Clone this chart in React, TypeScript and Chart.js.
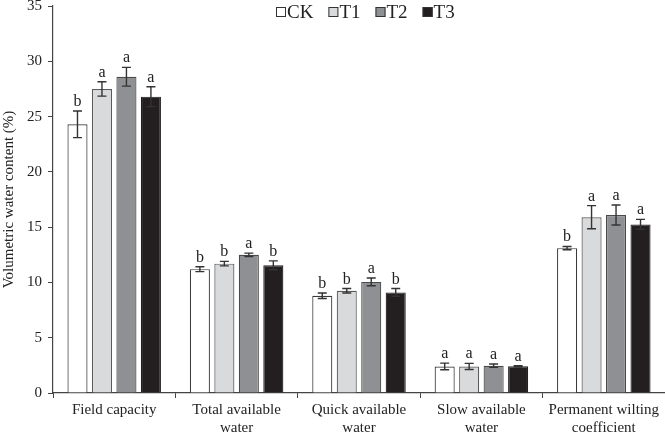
import React, { useEffect, useRef } from "react";
import { Chart, registerables } from "chart.js";

Chart.register(...registerables);

const categories: (string | string[])[] = [
  "Field capacity",
  ["Total available", "water"],
  ["Quick available", "water"],
  ["Slow available", "water"],
  ["Permanent wilting", "coefficient"],
];
const seriesNames = ["CK", "T1", "T2", "T3"];
const ckValues = [24.3, 11.2, 8.8, 2.4, 13.1];
const t1Values = [27.5, 11.7, 9.25, 2.4, 15.9];
const t2Values = [28.6, 12.5, 10.05, 2.47, 16.1];
const t3Values = [26.8, 11.55, 9.1, 2.42, 15.25];
const ckErrors = [1.2, 0.22, 0.25, 0.3, 0.15];
const t1Errors = [0.65, 0.2, 0.2, 0.28, 1.05];
const t2Errors = [0.85, 0.15, 0.35, 0.15, 0.9];
const t3Errors = [0.9, 0.4, 0.35, 0.05, 0.45];
const ckLetters = ["b", "b", "b", "a", "b"];
const t1Letters = ["a", "b", "b", "a", "a"];
const t2Letters = ["a", "a", "a", "a", "a"];
const t3Letters = ["a", "b", "b", "a", "a"];
const yTicks = [0, 5, 10, 15, 20, 25, 30, 35];

const fills = ["#ffffff", "#d9dadc", "#8f9093", "#231f20"];
const borders = ["#3a3a3a", "#5a5a5a", "#4a4a4a", "#231f20"];
const FONT = "'Liberation Serif', 'Times New Roman', serif";

const allValues = [ckValues, t1Values, t2Values, t3Values];
const allErrors = [ckErrors, t1Errors, t2Errors, t3Errors];
const allLetters = [ckLetters, t1Letters, t2Letters, t3Letters];

const errorPlugin = {
  id: "errorBars",
  afterDatasetsDraw(chart: any) {
    const ctx = chart.ctx;
    const y = chart.scales.y;
    ctx.save();
    chart.data.datasets.forEach((ds: any, i: number) => {
      const meta = chart.getDatasetMeta(i);
      meta.data.forEach((bar: any, j: number) => {
        const v = allValues[i][j];
        const e = allErrors[i][j];
        const top = y.getPixelForValue(v + e);
        const bot = y.getPixelForValue(v - e);
        const x = bar.x;
        ctx.strokeStyle = "#333333";
        ctx.lineWidth = 1.4;
        ctx.beginPath();
        ctx.moveTo(x, top);
        ctx.lineTo(x, bot);
        ctx.moveTo(x - 4.5, top);
        ctx.lineTo(x + 4.5, top);
        ctx.moveTo(x - 4.5, bot);
        ctx.lineTo(x + 4.5, bot);
        ctx.stroke();
        ctx.fillStyle = "#222222";
        ctx.font = `16px ${FONT}`;
        ctx.textAlign = "center";
        ctx.textBaseline = "alphabetic";
        ctx.fillText(allLetters[i][j], x, top - 5);
      });
    });
    ctx.restore();
  },
};

const legendPlugin = {
  id: "customLegend",
  afterDraw(chart: any) {
    const ctx = chart.ctx;
    ctx.save();
    ctx.font = `19px ${FONT}`;
    ctx.textBaseline = "alphabetic";
    ctx.textAlign = "left";
    let x = 276;
    seriesNames.forEach((name, i) => {
      ctx.fillStyle = fills[i];
      ctx.fillRect(x, 7, 10, 10);
      ctx.strokeStyle = "#333333";
      ctx.lineWidth = 1;
      ctx.strokeRect(x + 0.5, 7.5, 9, 9);
      ctx.fillStyle = "#222222";
      ctx.fillText(name, x + 11, 18);
      const w = ctx.measureText(name).width;
      x += 11 + w + 15;
    });
    ctx.restore();
  },
};

export default function App() {
  const ref = useRef<HTMLCanvasElement>(null);
  useEffect(() => {
    if (!ref.current) return;
    const chart = new Chart(ref.current, {
      type: "bar",
      data: {
        labels: categories,
        datasets: seriesNames.map((n, i) => ({
          label: n,
          data: allValues[i],
          backgroundColor: fills[i],
          borderColor: borders[i],
          borderWidth: 1.2,
          categoryPercentage: 0.8,
          barPercentage: 0.82,
        })),
      },
      options: {
        responsive: false,
        animation: false,
        layout: { padding: { top: 6, right: 0, left: 0, bottom: 0 } },
        plugins: { legend: { display: false }, tooltip: { enabled: false } },
        scales: {
          x: {
            grid: {
              display: true,
              drawOnChartArea: false,
              drawTicks: true,
              tickLength: 5,
              color: "#444444",
              offset: true,
            },
            border: { display: true, color: "#444444", width: 1.2 },
            ticks: {
              color: "#222222",
              font: { family: FONT, size: 15 },
              padding: 3,
              maxRotation: 0,
              autoSkip: false,
            },
            afterFit: (s: any) => {
              s.height = 41;
              s.paddingLeft = 0;
              s.paddingRight = 0;
            },
          },
          y: {
            min: 0,
            max: 35,
            afterBuildTicks: (s: any) => {
              s.ticks = yTicks.map((v) => ({ value: v }));
            },
            grid: {
              display: true,
              drawOnChartArea: false,
              drawTicks: true,
              tickLength: 5,
              color: "#444444",
            },
            border: { display: true, color: "#444444", width: 1.2 },
            ticks: {
              color: "#222222",
              font: { family: FONT, size: 15 },
              padding: 6,
            },
            title: {
              display: true,
              text: "Volumetric water content (%)",
              color: "#222222",
              font: { family: FONT, size: 15 },
              padding: { top: 0, bottom: 0 },
            },
            afterFit: (s: any) => {
              s.width = 53;
              s.paddingTop = 0;
              s.paddingBottom = 0;
            },
          },
        },
      },
      plugins: [errorPlugin, legendPlugin],
    });
    return () => chart.destroy();
  }, []);
  return (
    <div style={{ position: "absolute", left: 0, top: 0, width: 665, height: 434 }}>
      <canvas ref={ref} width={665} height={434} style={{ display: "block" }} />
    </div>
  );
}
